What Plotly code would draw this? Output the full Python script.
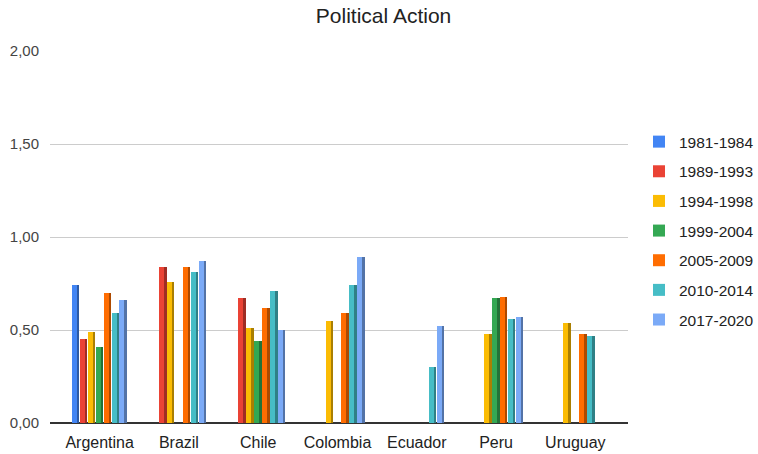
import plotly.graph_objects as go

countries = ["Argentina", "Brazil", "Chile", "Colombia", "Ecuador", "Peru", "Uruguay"]
waves = ["1981-1984", "1989-1993", "1994-1998", "1999-2004", "2005-2009", "2010-2014", "2017-2020"]

v_1981_1984 = [0.74, None, None, None, None, None, None]
v_1989_1993 = [0.45, 0.84, 0.67, None, None, None, None]
v_1994_1998 = [0.49, 0.76, 0.51, 0.55, None, 0.48, 0.54]
v_1999_2004 = [0.41, None, 0.44, None, None, 0.67, None]
v_2005_2009 = [0.70, 0.84, 0.62, 0.59, None, 0.68, 0.48]
v_2010_2014 = [0.59, 0.81, 0.71, 0.74, 0.30, 0.56, 0.47]
v_2017_2020 = [0.66, 0.87, 0.50, 0.89, 0.52, 0.57, None]

series = [v_1981_1984, v_1989_1993, v_1994_1998, v_1999_2004, v_2005_2009, v_2010_2014, v_2017_2020]
y_ticks = [0, 0.5, 1.0, 1.5, 2.0]
y_tick_labels = ["0,00", "0,50", "1,00", "1,50", "2,00"]

colors = ["#4285F4", "#EA4335", "#FBBC04", "#34A853", "#FF6D01", "#46BDC6", "#7BAAF7"]


def darker(hex_color, f=0.68):
    h = hex_color.lstrip("#")
    r, g, b = (int(h[i:i + 2], 16) for i in (0, 2, 4))
    return "rgb(%d,%d,%d)" % (r * f, g * f, b * f)


fig = go.Figure()
group_w = 0.70
slot = group_w / len(waves)
for i, (name, vals, col) in enumerate(zip(waves, series, colors)):
    off = -group_w / 2 + i * slot
    # side face (3D effect)
    fig.add_trace(go.Bar(
        x=countries, y=vals, offset=off, width=slot * 0.94,
        marker=dict(color=darker(col), line=dict(width=0)),
        showlegend=False, hoverinfo="skip", legendgroup=name,
    ))
    # front face
    fig.add_trace(go.Bar(
        x=countries, y=vals, offset=off, width=slot * 0.63,
        name=name, marker=dict(color=col, line=dict(width=0)),
        legendgroup=name,
    ))

fig.update_layout(
    width=758, height=454,
    margin=dict(l=50, r=130, t=51, b=31, autoexpand=False),
    paper_bgcolor="white", plot_bgcolor="white",
    barmode="overlay",
    font=dict(family="Liberation Sans, Arial, sans-serif", size=13, color="#444444"),
    title=dict(text="Political Action", x=0.506, xanchor="center", y=0.965, yanchor="middle",
               font=dict(size=21, color="#222222")),
    xaxis=dict(
        type="category", range=[-0.626, 6.664],
        showgrid=False, ticks="", showline=False, zeroline=False,
        tickfont=dict(size=16, color="#222222"), ticklabelstandoff=8,
    ),
    yaxis=dict(
        range=[0, 2], tickvals=y_ticks, ticktext=y_tick_labels,
        showgrid=True, gridcolor="#cccccc", gridwidth=1,
        zeroline=True, zerolinecolor="#333333", zerolinewidth=1.5,
        showline=False, ticks="", ticklabelstandoff=10,
        tickfont=dict(size=15, color="#444444"),
    ),
    legend=dict(
        x=1.019, xanchor="left", y=0.516, yanchor="middle",
        font=dict(size=15.5, color="#222222"),
        tracegroupgap=6.5, itemwidth=30,
    ),
    bargap=0,
)

fig.write_html("out.html")
